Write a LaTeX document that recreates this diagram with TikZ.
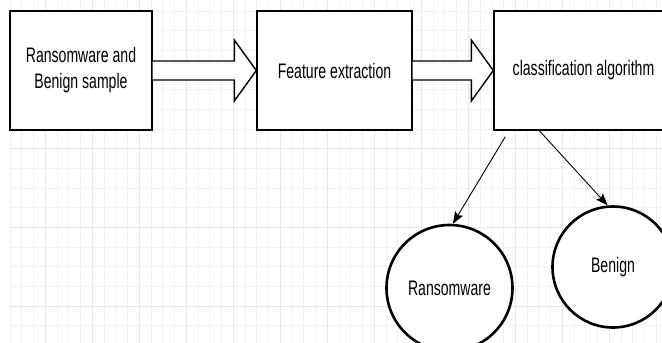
\documentclass[tikz,border=0pt]{standalone}
\usepackage{fontspec}
\setmainfont{Liberation Sans}[FakeStretch=0.67]
\usetikzlibrary{calc,arrows.meta}
\begin{document}
\begin{tikzpicture}[x=1pt,y=-1pt,
  gridminor/.style={draw=black!5, line width=0.8pt},
  gridmajor/.style={draw=black!9, line width=1pt},
  box/.style={draw, line width=1.4pt, fill=white, minimum width=#1, minimum height=119pt, inner sep=0pt, align=center, font=\fontsize{21}{26}\selectfont},
  circ/.style={circle, draw, line width=2.6pt, fill=white, minimum size=#1, inner sep=0pt, font=\fontsize{21}{26}\selectfont},
  blk/.style={draw, fill=white, line width=1.4pt, line join=miter},
  link/.style={draw, line width=0.9pt, -{Stealth[length=12pt,width=9pt,inset=2pt]}}]
\useasboundingbox (0,0) rectangle (662,343);
\clip (0,0) rectangle (662,343);
\fill[white] (0,0) rectangle (662,343);
% grid
\foreach \i in {0,...,56} { \draw[gridminor] ({10+\i*11.75},0) -- ({10+\i*11.75},343); }
\foreach \i in {1,...,18} { \draw[gridminor] (10,{-8.7+\i*19.675}) -- (662,{-8.7+\i*19.675}); }
\foreach \i in {1,...,13} { \draw[gridmajor] ({-1.7+\i*47},0) -- ({-1.7+\i*47},343); }
\foreach \i in {1,...,4} { \draw[gridmajor] (10,{-8.7+\i*78.7}) -- (662,{-8.7+\i*78.7}); }
% boxes
\node[box=142pt] (a) at (81,70.5) {Ransomware and\\Benign sample};
\node[box=155pt] (b) at (334.5,70.5) {Feature extraction};
\node[box=179pt] (c) at (583.5,70.5) {classification algorithm};
% block arrows
\draw[blk] ($(a.east)+(0,-9.5)$) -- ($(b.west)+(-22,-9.5)$) -- ($(b.west)+(-22,-30.5)$) -- (b.west)
  -- ($(b.west)+(-22,30.5)$) -- ($(b.west)+(-22,9.5)$) -- ($(a.east)+(0,9.5)$);
\draw[blk] ($(b.east)+(0,-9.5)$) -- ($(c.west)+(-22,-9.5)$) -- ($(c.west)+(-22,-30.5)$) -- (c.west)
  -- ($(c.west)+(-22,30.5)$) -- ($(c.west)+(-22,9.5)$) -- ($(b.east)+(0,9.5)$);
% circles
\node[circ=126pt] (r) at (449.5,288) {Ransomware};
\node[circ=121pt] (g) at (613,267) {Benign};
% links
\coordinate (s1) at ($(c.south west)+(12,6)$);
\coordinate (s2) at ($(c.south west)+(46,0)$);
\draw[link] (s1) -- (r.87);
\draw[link] (s2) -- (g.95);
\end{tikzpicture}
\end{document}
